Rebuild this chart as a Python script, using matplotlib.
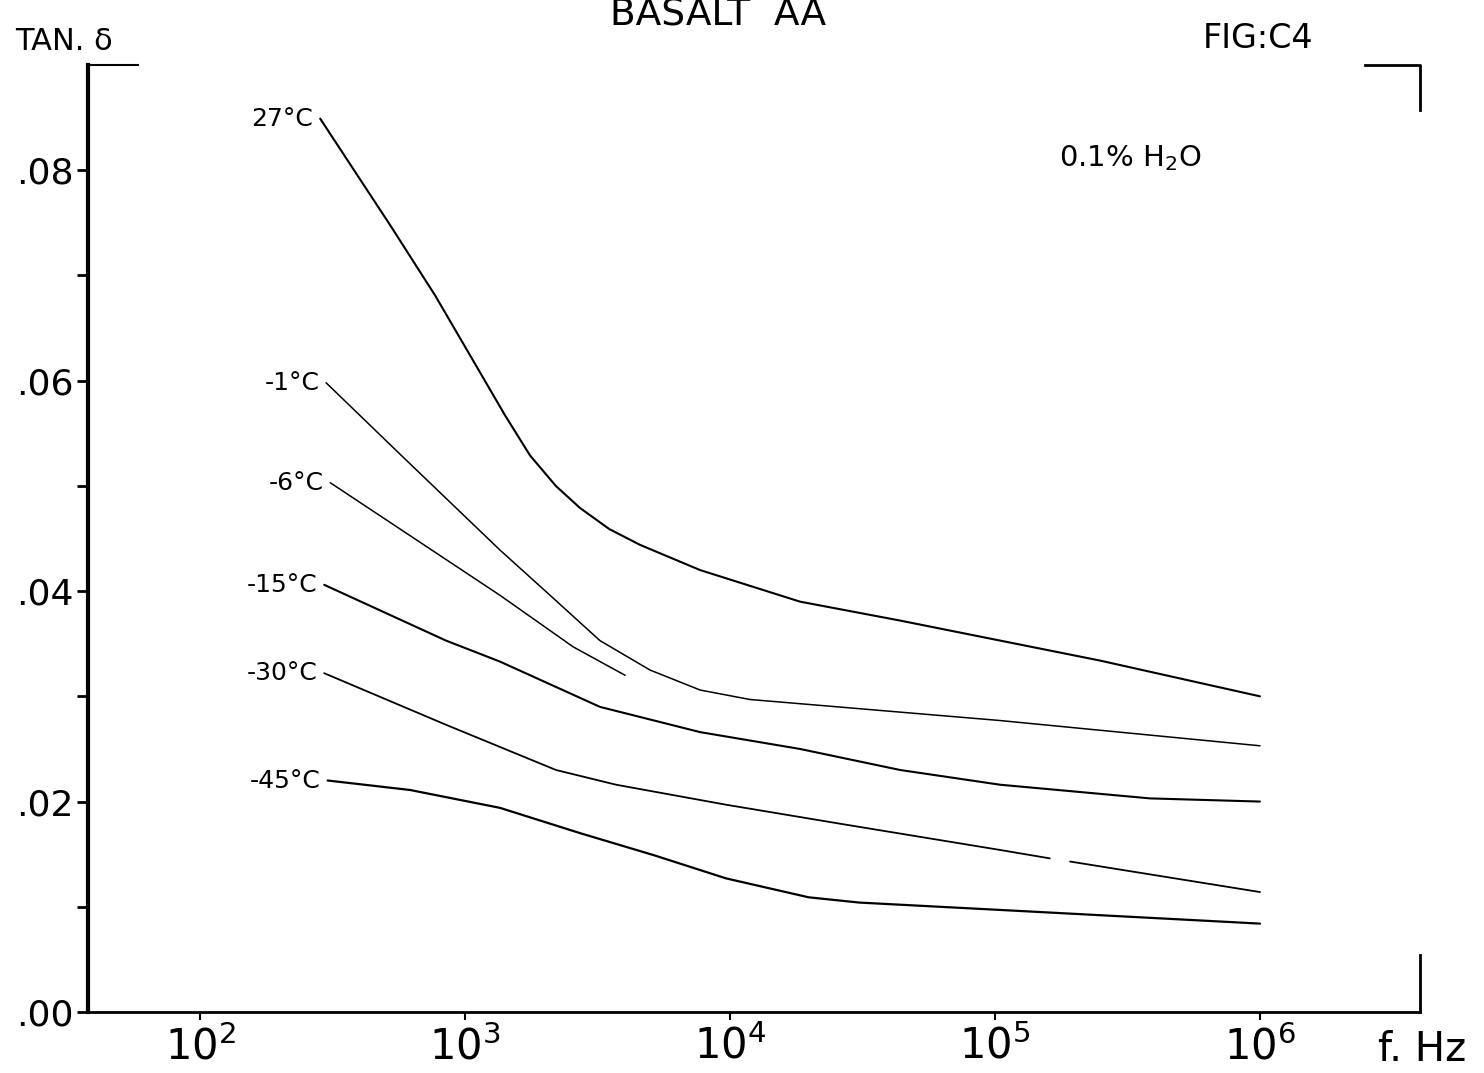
import numpy as np
import matplotlib
matplotlib.use("Agg")
import matplotlib.pyplot as plt

# ---- data ----
labels = ["27°C", "-1°C", "-6°C", "-15°C", "-30°C", "-45°C"]

f_27 = [284, 521, 771, 1045, 1416, 1758, 2200, 2716, 3500, 4571, 7709, 18365, 43853, 104500, 249000, 1000000]
t_27 = [0.0849, 0.0748, 0.0681, 0.0624, 0.0567, 0.0529, 0.0500, 0.0479, 0.0459, 0.0444, 0.0420, 0.0390, 0.0372, 0.0353, 0.0334, 0.0300]

f_m1 = [299, 569, 1355, 2094, 3228, 4989, 7709, 11885, 28380, 104500, 1000000]
t_m1 = [0.0598, 0.0530, 0.0439, 0.0396, 0.0353, 0.0325, 0.0306, 0.0297, 0.0289, 0.0277, 0.0253]

f_m6 = [310, 1355, 2560, 4018]
t_m6 = [0.0503, 0.0396, 0.0347, 0.0320]

f_m15 = [294, 847, 1355, 3228, 7709, 18365, 43853, 104500, 384600, 1000000]
t_m15 = [0.0406, 0.0353, 0.0333, 0.0290, 0.0266, 0.0250, 0.0230, 0.0216, 0.0203, 0.0200]

# the original drawing has a small break in the -30 °C curve near 1.7e5 Hz
f_m30 = [294, 847, 2204, 3716, 9659, 27410, 104500, 161000, 175000, 192000, 1000000]
t_m30 = [0.0322, 0.0273, 0.0230, 0.0216, 0.0197, 0.0178, 0.0154, 0.0146, np.nan, 0.0143, 0.0114]

f_m45 = [303, 620, 1355, 2716, 5163, 9659, 19800, 30760, 104500, 1000000]
t_m45 = [0.0220, 0.0211, 0.0194, 0.0170, 0.0149, 0.0127, 0.0109, 0.0104, 0.0097, 0.0084]

series_f = [f_27, f_m1, f_m6, f_m15, f_m30, f_m45]
series_t = [t_27, t_m1, t_m6, t_m15, t_m30, t_m45]
widths = [1.5, 1.1, 1.1, 1.5, 1.3, 1.6]

yticks = [0.00, 0.02, 0.04, 0.06, 0.08]
ytick_labels = [".00", ".02", ".04", ".06", ".08"]
xticks = [1e2, 1e3, 1e4, 1e5, 1e6]
xtick_labels = [r"$\mathregular{10^{2}}$", r"$\mathregular{10^{3}}$", r"$\mathregular{10^{4}}$",
                r"$\mathregular{10^{5}}$", r"$\mathregular{10^{6}}$"]

W, H = 1484, 1073
fig = plt.figure(figsize=(W / 100, H / 100), dpi=100)
ax = fig.add_axes([88 / W, 61 / H, (1420 - 88) / W, (1012 - 65) / H])

ax.set_xscale("log")
ax.set_xlim(10 ** 1.577, 10 ** 6.604)
ax.set_ylim(0, 0.09)

for f, t, lw in zip(series_f, series_t, widths):
    ax.plot(f, t, color="black", lw=lw, solid_capstyle="round", solid_joinstyle="round")

for lab, f, t in zip(labels, series_f, series_t):
    ax.annotate(lab, (f[0], t[0]), xytext=(-5, 0), textcoords="offset points",
                ha="right", va="center", fontsize=18, color="black")

# spines / frame
for s in ["top", "right"]:
    ax.spines[s].set_visible(False)
ax.spines["left"].set_linewidth(3)
ax.spines["bottom"].set_linewidth(2)

# partial frame marks
tr = ax.transAxes
ax.plot([0, 50 / 1332], [1, 1], color="black", lw=1.5, transform=tr, clip_on=False)
ax.plot([(1365 - 88) / 1332, 1, 1], [1, 1, 1 - 45 / 947], color="black", lw=2,
        transform=tr, clip_on=False)
ax.plot([1, 1], [0, 57 / 947], color="black", lw=2, transform=tr, clip_on=False)

ax.set_yticks(yticks)
ax.set_yticklabels(ytick_labels, fontsize=26)
ax.set_yticks([0.01, 0.03, 0.05, 0.07], minor=True)
ax.tick_params(axis="y", which="both", direction="out", length=8, width=2, pad=2)

ax.set_xticks(xticks)
ax.set_xticklabels(xtick_labels, fontsize=30)
ax.xaxis.set_minor_locator(matplotlib.ticker.NullLocator())
ax.tick_params(axis="x", which="major", direction="out", length=6, width=1.5, pad=4)

# texts
fig.text(718 / W, 1 - 16 / H, "BASALT  AA", fontsize=27, ha="center", va="center")
fig.text(1258 / W, 1 - 38 / H, "FIG:C4", fontsize=24, ha="center", va="center")
fig.text(64 / W, 1 - 42 / H, "TAN. δ", fontsize=22, ha="center", va="center")
fig.text(1130 / W, 1 - 158 / H, r"0.1% H$_2$O", fontsize=21, ha="center", va="center")
fig.text(1422 / W, 1 - 1050 / H, "f. Hz", fontsize=29, ha="center", va="center")

fig.savefig("out.png", dpi=100, facecolor="white")
